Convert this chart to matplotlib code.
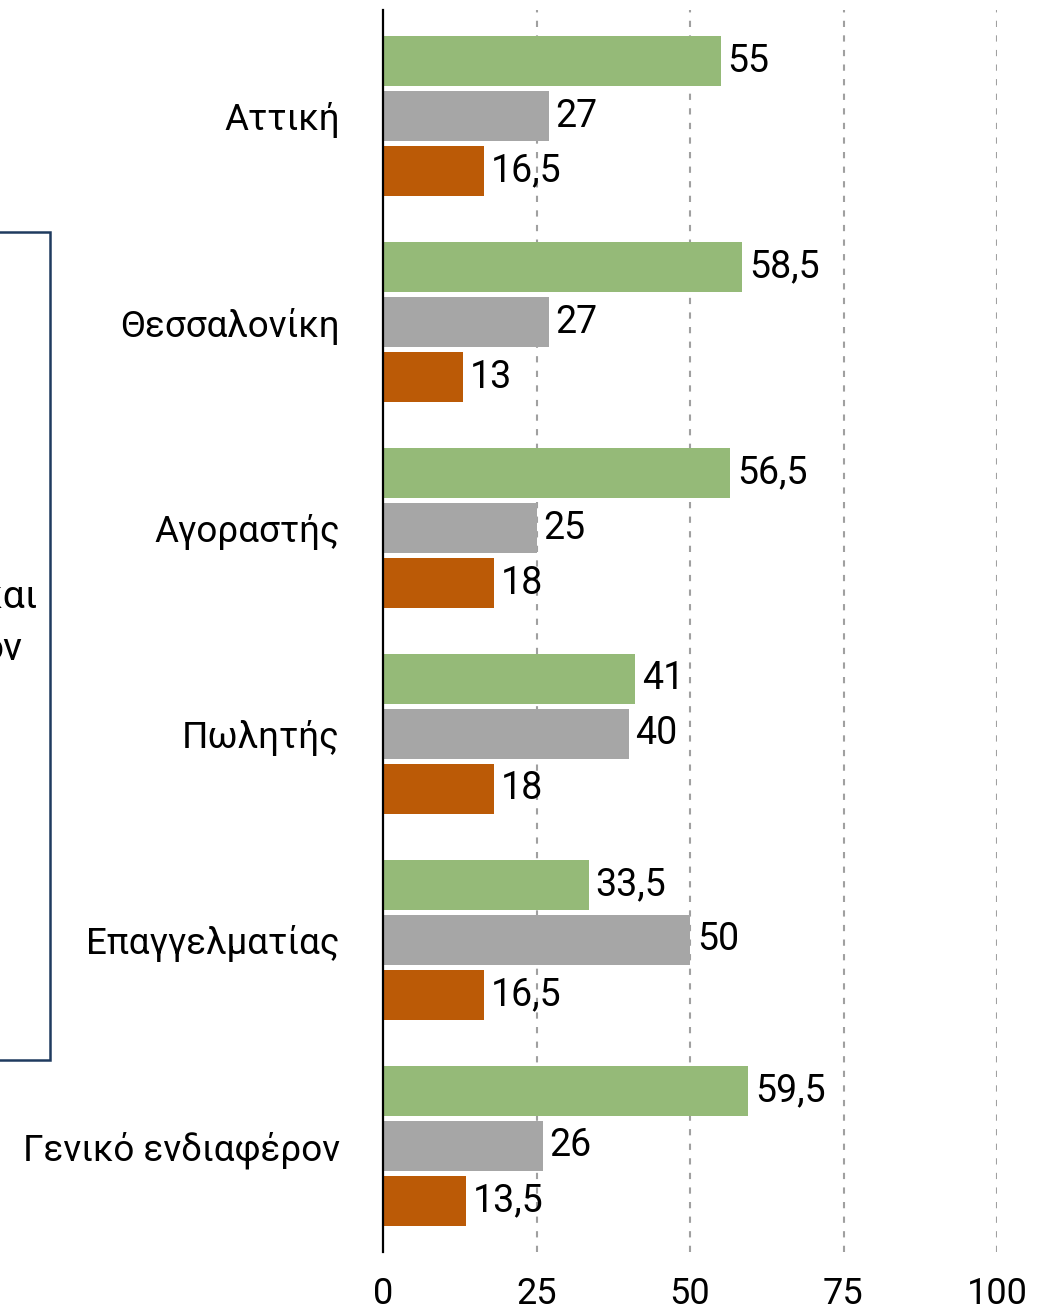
import numpy as np
import matplotlib.pyplot as plt
from matplotlib.patches import Rectangle

plt.rcParams['font.family'] = ['Roboto', 'DejaVu Sans']

categories = ['Αττική', 'Θεσσαλονίκη', 'Αγοραστής', 'Πωλητής',
              'Επαγγελματίας', 'Γενικό ενδιαφέρον']
green_vals = [55, 58.5, 56.5, 41, 33.5, 59.5]
gray_vals = [27, 27, 25, 40, 50, 26]
orange_vals = [16.5, 13, 18, 18, 16.5, 13.5]
xticks = [0, 25, 50, 75, 100]

W, H = 1048, 1312
fig = plt.figure(figsize=(W / 100, H / 100), dpi=100)
ax = fig.add_axes([383 / W, 1 - 1252 / H, (997 - 383) / W, (1252 - 10) / H])

y = np.arange(len(categories))
step = 0.267
bh = 0.24
series = [(green_vals, '#95BA78', -step),
          (gray_vals, '#A6A6A6', 0),
          (orange_vals, '#BB5A06', step)]

for vals, col, off in series:
    bars = ax.barh(y + off, vals, height=bh, color=col, zorder=3)
    for b, v in zip(bars, vals):
        lab = ('%g' % v).replace('.', ',')
        ax.annotate(lab, (v, b.get_y() + b.get_height() / 2),
                    xytext=(5, 0), textcoords='offset points',
                    va='center', ha='left', fontsize=27, color='black')

ax.set_xlim(0, 100)
ax.set_ylim(len(categories) - 0.485, -0.515)
ax.set_xticks(xticks)
ax.set_xticklabels([str(t) for t in xticks], fontsize=26)
ax.set_yticks(y)
ax.set_yticklabels(categories, fontsize=26.5)
ax.tick_params(axis='x', length=0, pad=17)
ax.tick_params(axis='y', length=0, pad=31)

for s in ['top', 'right', 'bottom']:
    ax.spines[s].set_visible(False)
ax.spines['left'].set_color('black')
ax.spines['left'].set_linewidth(1.6)
ax.spines['left'].set_zorder(5)

ax.xaxis.grid(True, linestyle=(0, (3, 4)), color='#A0A0A0', linewidth=1.5)
ax.set_axisbelow(True)
# hide the grid line at 0 (spine sits there)
ax.get_xgridlines()[0].set_visible(False)

# partially visible text box on the left edge
box = Rectangle((-20 / W, 1 - 1060 / H), 70 / W, (1060 - 232) / H,
                transform=fig.transFigure, fill=False,
                edgecolor='#1F3B5F', linewidth=1.8, clip_on=False)
fig.patches.append(box)
fig.text(37 / W, 1 - 597 / H, 'και', ha='right', va='center', fontsize=28)
fig.text(22 / W, 1 - 650 / H, 'ον', ha='right', va='center', fontsize=28)

fig.savefig('out.png', dpi=100)
